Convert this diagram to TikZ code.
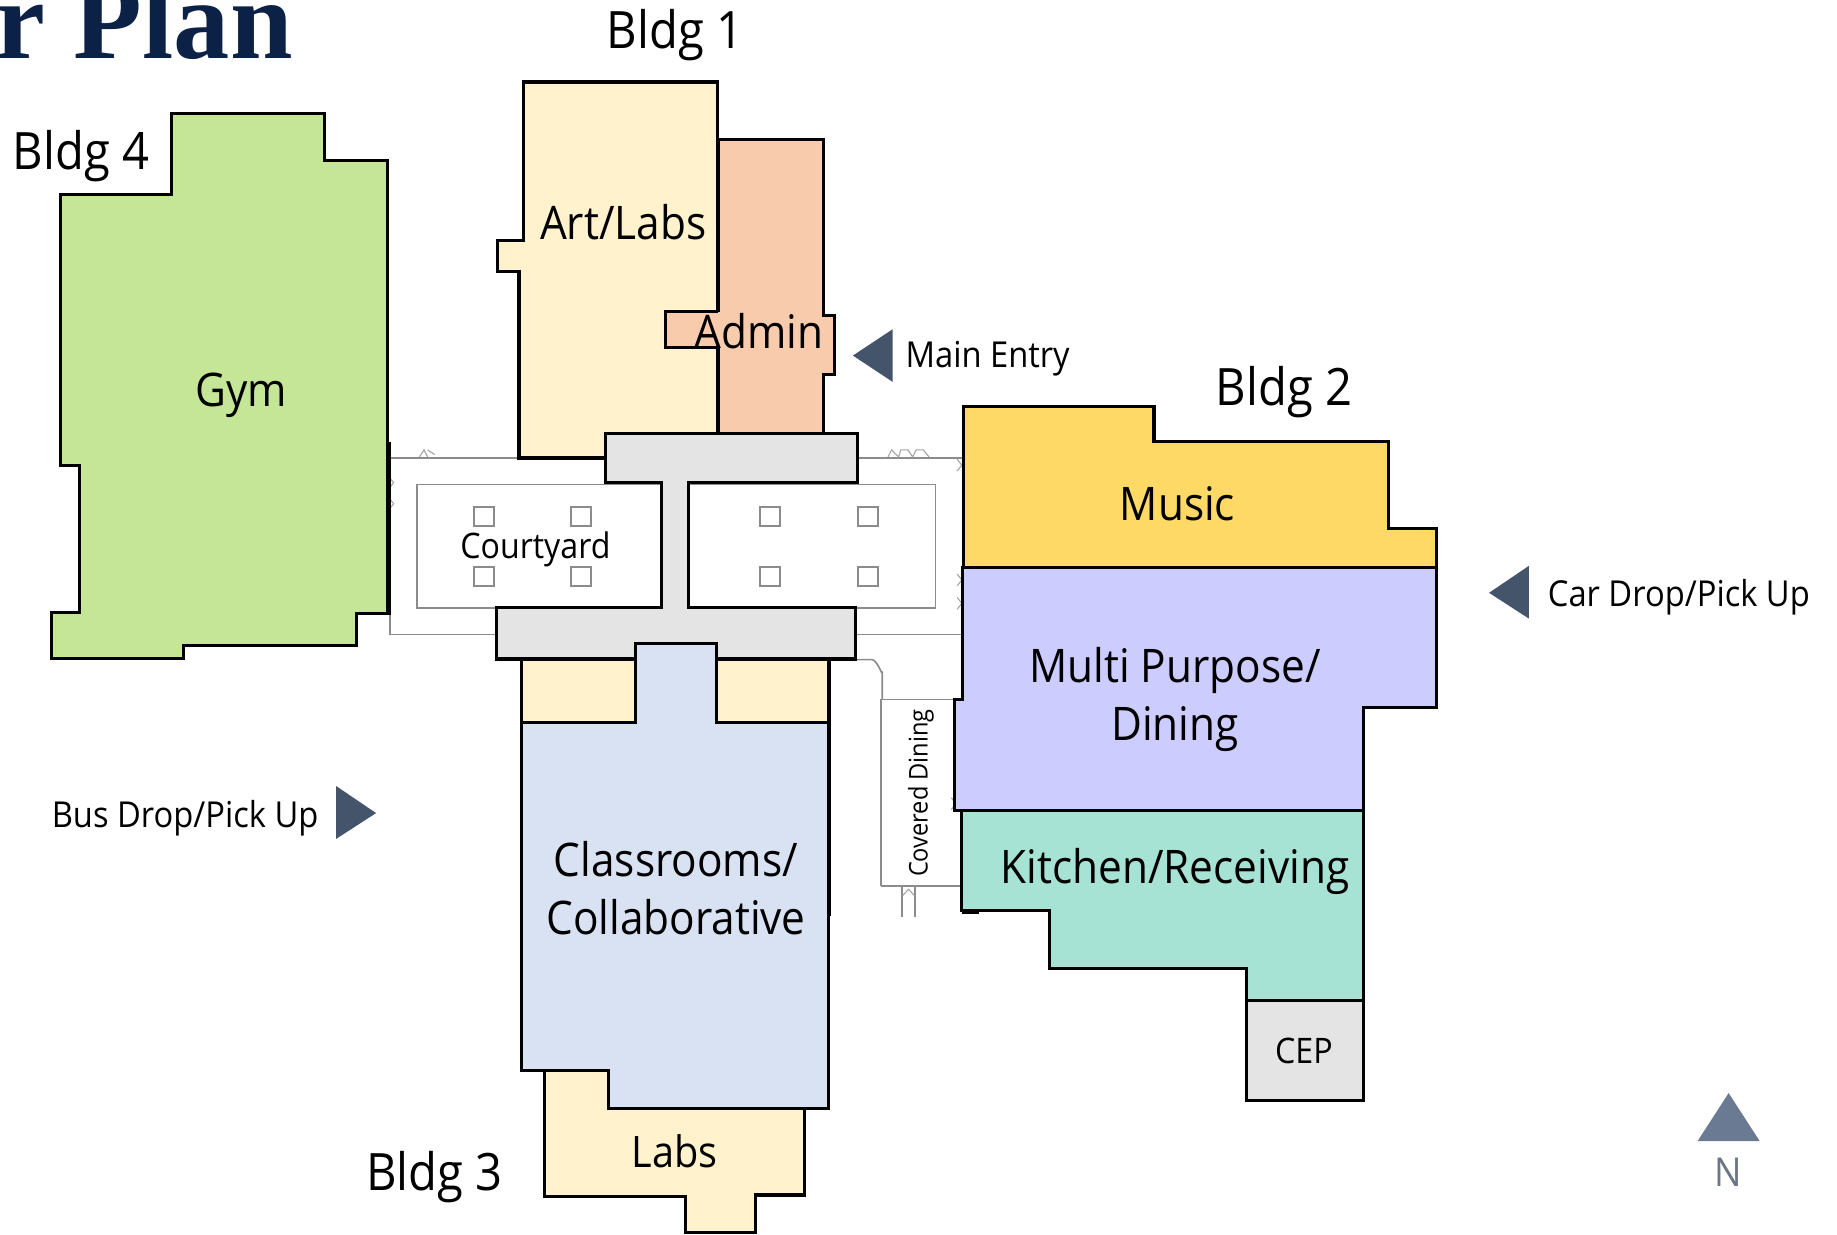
\documentclass[tikz,border=0pt]{standalone}
\usepackage{fontspec}
\setmainfont[FakeStretch=0.915]{Open Sans}
\newfontfamily\titlefont{Liberation Serif}
\definecolor{navy}{HTML}{0B2145}
\definecolor{gymc}{HTML}{C5E697}
\definecolor{creamc}{HTML}{FFF2CC}
\definecolor{adminc}{HTML}{F7CBAC}
\definecolor{greyc}{HTML}{E4E4E4}
\definecolor{bluec}{HTML}{D9E2F3}
\definecolor{musicc}{HTML}{FFD966}
\definecolor{multic}{HTML}{CCCCFF}
\definecolor{kitchenc}{HTML}{A6E3D5}
\definecolor{arrowc}{HTML}{44546A}
\definecolor{northc}{HTML}{6A7A92}
\definecolor{nletter}{HTML}{6B7686}
\definecolor{wallc}{HTML}{8C8C8C}
\tikzset{
  x=1pt,y=-1pt,
  room/.style={draw=black,line width=2.6pt,line join=miter},
  thin wall/.style={draw=wallc,line width=1.4pt},
  mark line/.style={draw=wallc!80,line width=0.9pt},
  pier/.style={draw=wallc,line width=1.7pt,fill=white},
  tri/.style={fill=arrowc,draw=none},
  lab/.style={font=\fontsize{39.5}{39.5}\selectfont,inner sep=0pt,text=black},
  blab/.style={font=\fontsize{44}{44}\selectfont,inner sep=0pt,text=black},
  small/.style={font=\fontsize{30.5}{30.5}\selectfont,inner sep=0pt,text=black},
}
\begin{document}
\begin{tikzpicture}
\useasboundingbox (0,0) rectangle (1568,1054);
\clip (0,0) rectangle (1568,1054);
\fill[white] (0,0) rectangle (1568,1054);
% courtyard walls
\draw[thin wall] (333,391) -- (443,391);
\draw[thin wall] (732,391) -- (821,391);
\draw[thin wall] (333,391) -- (333,541.5) -- (424,541.5);
\draw[thin wall] (730,541.5) -- (821,541.5);
\draw[thin wall] (356,413.5) rectangle (565,519);
\draw[thin wall] (588,413.5) rectangle (798.5,519);
\foreach \a/\b in {405/433,487.5/433,649/433,732/433,405/484,487.5/484,649/484,732/484}
  \draw[pier] (\a,\b) rectangle ++(17,16);
% door marks
\draw[mark line] (358,390) -- (362,384) -- (365,390) (365,384) -- (371,388);
\draw[mark line] (758,390) -- (761,384) -- (767,390) -- (769,384) -- (775,384) -- (779,390) -- (782,384) -- (788,384) -- (793,390);
\foreach \a/\b in {334/412,334/430,819/397,819/495,819/515,814/686}
  \draw[mark line] (\a-2,\b-5) -- (\a+2,\b) -- (\a-2,\b+5);
% covered dining
\draw[thin wall] (731,563) -- (744,563) to[out=0,in=-90] (753,573) -- (753,597);
\draw[thin wall,line width=2pt] (752,597) -- (752,756);
\draw[thin wall] (752,597) -- (816,597);
\draw[thin wall] (752,756) -- (821,756);
\draw[thin wall,line width=1.1pt] (770,757) -- (770,783);
\draw[thin wall,line width=1.1pt] (781,757) -- (781,783);
\draw[mark line] (770,765) -- (775.5,759) -- (781,765);
% buildings
\draw[room,fill=gymc] (146,97) -- (277,97) -- (277,137) -- (331,137) -- (331,524) -- (304,524) -- (304,551) -- (157,551) -- (157,562) -- (44,562) -- (44,523) -- (68,523) -- (68,397) -- (52,397) -- (52,166) -- (146,166) -- cycle;
\draw[draw=black,line width=3pt] (332.5,377) -- (332.5,525);
\draw[room,fill=creamc] (447,70) -- (612.5,70) -- (612.5,391) -- (443,391) -- (443,232) -- (425,232) -- (425,205) -- (447,205) -- cycle;
\draw[draw=black,line width=3.4pt] (443,390.5) -- (517,390.5);
\fill[adminc] (613,119) rectangle (703,369);
\fill[adminc] (568,266) rectangle (703,297);
\fill[adminc] (703,269) rectangle (712,320);
\draw[room] (613,266) -- (613,119) -- (703,119) -- (703,269) -- (712,269) -- (712,320) -- (703,320) -- (703,369);
\draw[room] (613,266) -- (568,266) -- (568,297) -- (613,297) -- (613,369);
\draw[room,fill=greyc] (516.5,370) -- (732,370) -- (732,411.5) -- (588,411.5) -- (588,518.5) -- (730.5,518.5) -- (730.5,562.5) -- (423.5,562.5) -- (423.5,518.5) -- (564.5,518.5) -- (564.5,411.5) -- (516.5,411.5) -- cycle;
\draw[room,fill=creamc] (445,562.5) -- (707,562.5) -- (707,617) -- (445,617) -- cycle;
\draw[room,fill=bluec] (542.5,549) -- (611.5,549) -- (611.5,617) -- (707,617) -- (707,946) -- (519,946) -- (519,914) -- (445,914) -- (445,617) -- (542.5,617) -- cycle;
\draw[room,fill=creamc] (465,914) -- (519,914) -- (519,946) -- (687,946) -- (687,1020) -- (645,1020) -- (645,1052) -- (585,1052) -- (585,1021) -- (465,1021) -- cycle;
\draw[draw=black,line width=3pt] (708,562) -- (708,782);
\draw[room,fill=musicc] (822,347) -- (985,347) -- (985,377) -- (1185,377) -- (1185,451) -- (1226,451) -- (1226,484) -- (822,484) -- cycle;
\draw[room,fill=multic] (821.5,484) -- (1226,484) -- (1226,604) -- (1164,604) -- (1164,692) -- (815,692) -- (815,597) -- (821.5,597) -- cycle;
\draw[room,fill=kitchenc] (821,692) -- (1164,692) -- (1164,854) -- (1064,854) -- (1064,827) -- (896,827) -- (896,777) -- (821,777) -- cycle;
\draw[room,fill=greyc] (1064,854) -- (1164,854) -- (1164,939) -- (1064,939) -- cycle;
\draw[draw=black,line width=1.6pt] (821,779) -- (836,779);
% arrows
\fill[tri] (762,281) -- (762,326) -- (728,303.5) -- cycle;
\fill[tri] (1305,483) -- (1305,528) -- (1271,506) -- cycle;
\fill[tri] (287,671) -- (287,716) -- (321,694) -- cycle;
\fill[northc] (1449,974) -- (1502,974) -- (1475.5,933) -- cycle;
% labels
\node[anchor=base east,inner sep=0pt,text=navy,font=\titlefont\bfseries\fontsize{96}{96}\selectfont] (title) at (250,50) {r Plan};
\node[blab] (b1) at (576,30) {Bldg 1};
\node[blab] (b4) at (69,133) {Bldg 4};
\node[blab] (b2) at (1096,335) {Bldg 2};
\node[blab] (b3) at (371,1005) {Bldg 3};
\node[lab] (art) at (532,190) {Art/Labs};
\node[lab] (admin) at (648,283) {Admin};
\node[lab] (gym) at (206,337) {Gym};
\node[small,font=\fontsize{30}{30}\selectfont] (court) at (457,469) {Courtyard};
\node[small] (main) at (843,306) {Main Entry};
\node[lab] (music) at (1005,430) {Music};
\node[lab] (mp) at (1003,572) {Multi Purpose/};
\node[lab] (din) at (1003,622) {Dining};
\node[lab] (kit) at (1003,744) {Kitchen/Receiving};
\node[lab] (cl) at (577,733) {Classrooms/};
\node[lab] (co) at (577,783) {Collaborative};
\node[lab,font=\fontsize{37}{37}\selectfont] (labs) at (576,983) {Labs};
\node[small,font=\fontsize{30}{30}\selectfont] (cep) at (1113,897) {CEP};
\node[small] (car) at (1433,510) {Car Drop/Pick Up};
\node[small] (bus) at (158,698) {Bus Drop/Pick Up};
\node[small,font=\fontsize{22}{22}\selectfont,rotate=90] (cov) at (786,677) {Covered Dining};
\node[font=\fontsize{34}{34}\selectfont,inner sep=0pt,text=nletter] (north) at (1475,1001) {N};
\end{tikzpicture}
\end{document}
